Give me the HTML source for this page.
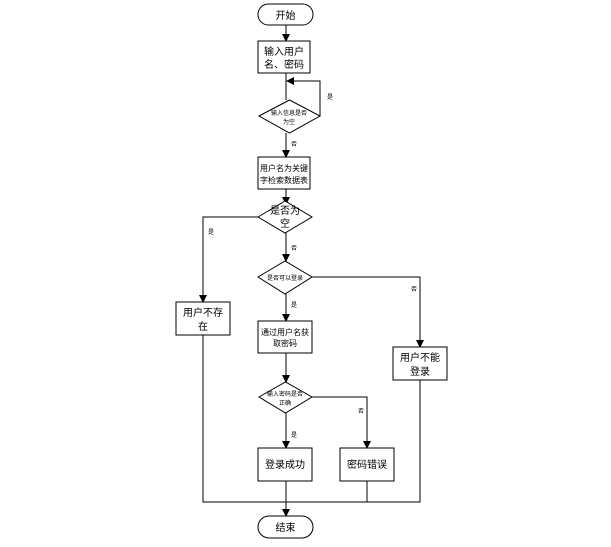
<!DOCTYPE html>
<html><head><meta charset="utf-8"><style>
body{margin:0;background:#fff}
svg text{font-family:"Liberation Sans","Noto Sans CJK SC",sans-serif;fill:#000}
</style></head><body>
<svg width="611" height="542" viewBox="0 0 611 542" xmlns="http://www.w3.org/2000/svg">
<defs><marker id="a" markerWidth="8" markerHeight="8" refX="7" refY="4" orient="auto" markerUnits="userSpaceOnUse"><path d="M0,0 L8,4 L0,8 z" fill="#000"/></marker></defs>
<g stroke="#000" stroke-width="1" fill="none">
<rect x="258" y="4" width="55" height="21" rx="10.5" fill="#fff"/>
<line x1="286" y1="25" x2="286" y2="41" marker-end="url(#a)"/>
<rect x="258" y="41" width="52" height="32" fill="#fff"/>
<line x1="286" y1="73" x2="286" y2="100"/>
<polyline points="320,116 320,81 287,81" marker-end="url(#a)"/>
<polygon points="259,116 289.5,100 320,116 289.5,133" fill="#fff"/>
<line x1="286" y1="133" x2="286" y2="157" marker-end="url(#a)"/>
<rect x="258" y="157" width="52" height="32" fill="#fff"/>
<line x1="286" y1="189" x2="286" y2="204" marker-end="url(#a)"/>
<polygon points="258,217 285,201 312,217 285,233" fill="#fff"/>
<polyline points="258,217 203,217 203,302" marker-end="url(#a)"/>
<rect x="176" y="302" width="54" height="33" fill="#fff"/>
<line x1="286" y1="233" x2="286" y2="261" marker-end="url(#a)"/>
<polygon points="258,277 285,261 312,277 285,294" fill="#fff"/>
<polyline points="312,277 420,277 420,347" marker-end="url(#a)"/>
<rect x="393" y="347" width="54" height="33" fill="#fff"/>
<line x1="286" y1="294" x2="286" y2="321" marker-end="url(#a)"/>
<rect x="258" y="321" width="54" height="32" fill="#fff"/>
<line x1="286" y1="353" x2="286" y2="382" marker-end="url(#a)"/>
<polygon points="259,397 285.5,382 312,397 285.5,413" fill="#fff"/>
<polyline points="312,397 367,397 367,448" marker-end="url(#a)"/>
<rect x="340" y="448" width="54" height="33" fill="#fff"/>
<line x1="286" y1="413" x2="286" y2="448" marker-end="url(#a)"/>
<rect x="258" y="448" width="54" height="33" fill="#fff"/>
<polyline points="203,335 203,502 420,502 420,380"/>
<line x1="367" y1="481" x2="367" y2="502"/>
<line x1="286" y1="481" x2="286" y2="516" marker-end="url(#a)"/>
<rect x="258" y="516" width="55" height="22" rx="11" fill="#fff"/>
</g>
<g font-size="10" text-anchor="middle">
<text x="285.5" y="19">开始</text>
<text x="284" y="55">输入用户</text>
<text x="284" y="68">名、密码</text>
<text x="289" y="115" font-size="6">输入信息是否</text>
<text x="289" y="124" font-size="6">为空</text>
<text x="284" y="171" font-size="8">用户名为关键</text>
<text x="284" y="183" font-size="8">字检索数据表</text>
<text x="285" y="214">是否为</text>
<text x="285" y="227">空</text>
<text x="203" y="316">用户不存</text>
<text x="203" y="330">在</text>
<text x="285" y="280" font-size="6">是否可以登录</text>
<text x="420" y="361">用户不能</text>
<text x="420" y="375">登录</text>
<text x="285" y="335" font-size="8">通过用户名获</text>
<text x="285" y="346" font-size="8">取密码</text>
<text x="285" y="396" font-size="6">输入密码是否</text>
<text x="285" y="405" font-size="6">正确</text>
<text x="285" y="468">登录成功</text>
<text x="367" y="468">密码错误</text>
<text x="285.5" y="531">结束</text>
</g>
<g font-size="6" text-anchor="middle">
<text x="330" y="99">是</text>
<text x="294" y="146">否</text>
<text x="211" y="234">是</text>
<text x="294" y="250">否</text>
<text x="414" y="291">否</text>
<text x="294" y="307">是</text>
<text x="361" y="413">否</text>
<text x="294" y="437">是</text>
</g>
</svg>
</body></html>
